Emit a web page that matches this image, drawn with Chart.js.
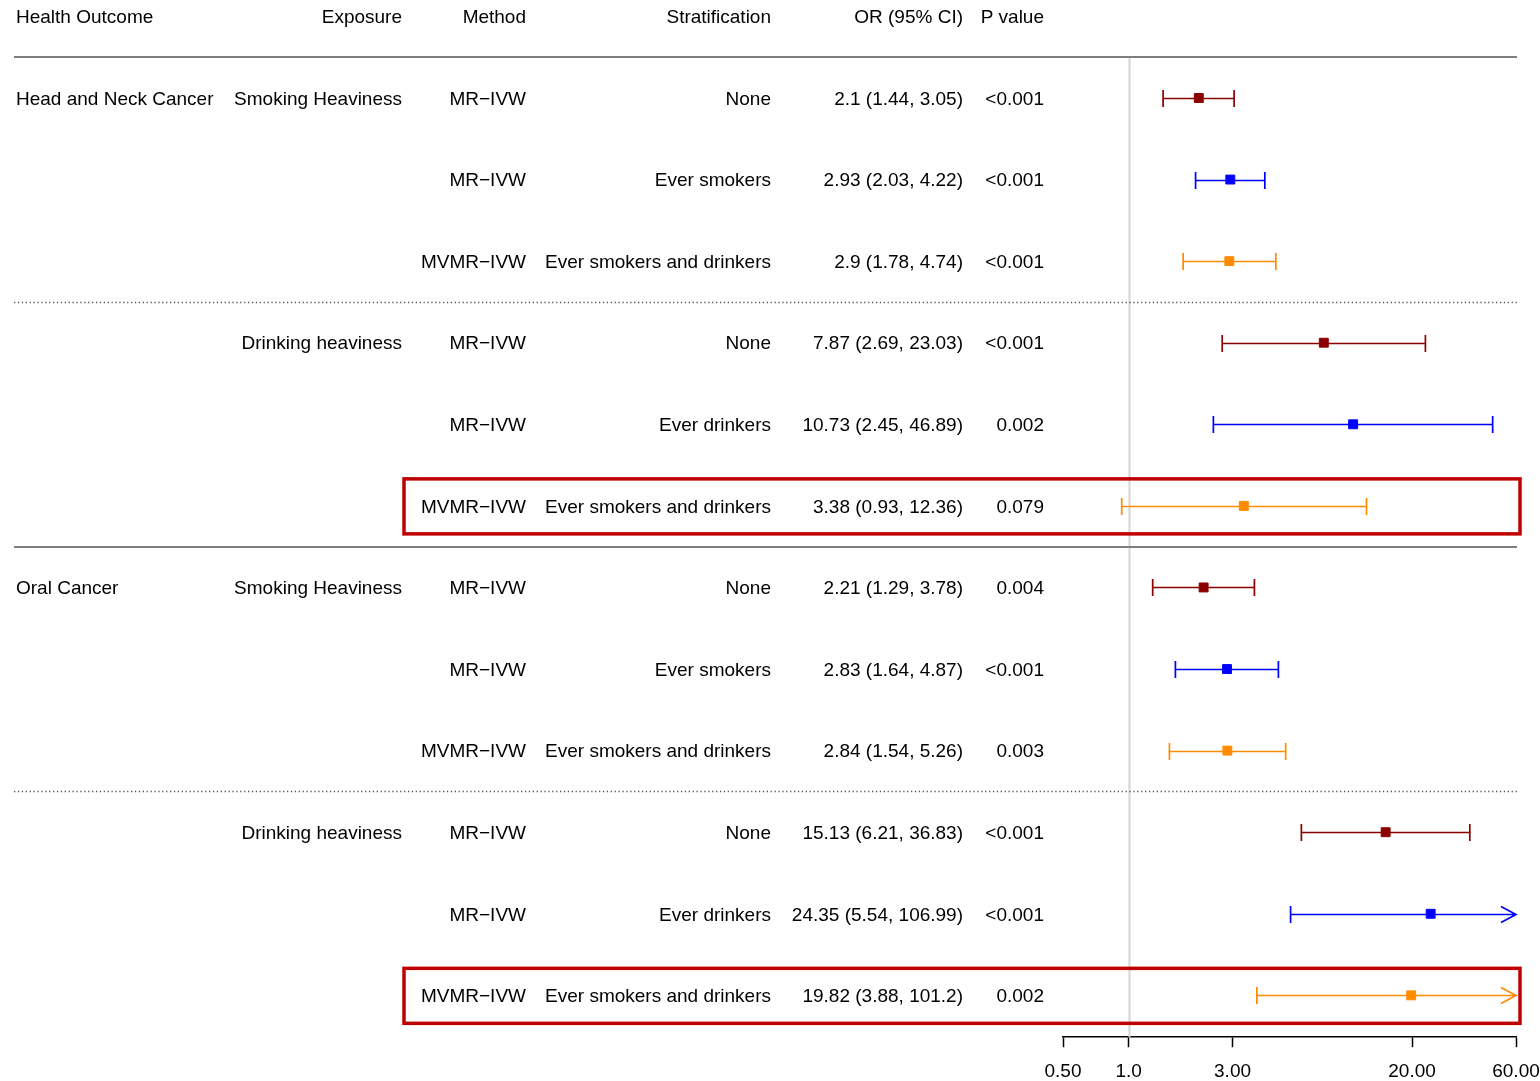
<!DOCTYPE html>
<html>
<head>
<meta charset="utf-8">
<title>Forest plot: smoking and drinking heaviness and cancer risk</title>
<script src="https://cdn.jsdelivr.net/npm/chart.js@4"></script>
<style>
  html, body { margin: 0; padding: 0; background: #ffffff; overflow: hidden; }
  #wrap { width: 1540px; height: 1081px; position: relative; }
</style>
</head>
<body>
<div id="wrap"><canvas id="forest"></canvas></div>
<script>
// ---- table content ----
const headers = ["Health Outcome", "Exposure", "Method", "Stratification", "OR (95% CI)", "P value"];
const outcomes = ["Head and Neck Cancer", "", "", "", "", "", "Oral Cancer", "", "", "", "", ""];
const exposures = ["Smoking Heaviness", "", "", "Drinking heaviness", "", "",
                   "Smoking Heaviness", "", "", "Drinking heaviness", "", ""];
const methods = ["MR\u2212IVW", "MR\u2212IVW", "MVMR\u2212IVW", "MR\u2212IVW", "MR\u2212IVW", "MVMR\u2212IVW",
                 "MR\u2212IVW", "MR\u2212IVW", "MVMR\u2212IVW", "MR\u2212IVW", "MR\u2212IVW", "MVMR\u2212IVW"];
const strata = ["None", "Ever smokers", "Ever smokers and drinkers",
                "None", "Ever drinkers", "Ever smokers and drinkers",
                "None", "Ever smokers", "Ever smokers and drinkers",
                "None", "Ever drinkers", "Ever smokers and drinkers"];
const orValues = [2.1, 2.93, 2.9, 7.87, 10.73, 3.38, 2.21, 2.83, 2.84, 15.13, 24.35, 19.82];
const lowerCI  = [1.44, 2.03, 1.78, 2.69, 2.45, 0.93, 1.29, 1.64, 1.54, 6.21, 5.54, 3.88];
const upperCI  = [3.05, 4.22, 4.74, 23.03, 46.89, 12.36, 3.78, 4.87, 5.26, 36.83, 106.99, 101.2];
const pValues  = ["<0.001", "<0.001", "<0.001", "<0.001", "0.002", "0.079",
                  "0.004", "<0.001", "0.003", "<0.001", "<0.001", "0.002"];
const highlightRows = [5, 11];
const groupBreaks = [2.5, 8.5];     // dotted separators between exposures
const outcomeBreaks = [5.5];        // solid separator between outcomes
const tickValues = [0.5, 1, 3, 20, 60];
const tickLabels = ["0.50", "1.0", "3.00", "20.00", "60.00"];

// ---- styling ----
const strataColor = {
  "None": "#8B0000",
  "Ever smokers": "#0000FF",
  "Ever drinkers": "#0000FF",
  "Ever smokers and drinkers": "#FF8C00"
};
const rowColors = strata.map(s => strataColor[s]);
const FONT = '19px "Liberation Sans", Arial, Helvetica, sans-serif';
const TEXT = "#000000";
const LEFT = 14, RIGHT = 1517;
const TEXT_NUDGE = 1.5;   // optical centring of table text on its row
// column anchors: [x, alignment]
const columns = [[16, "left"], [402, "right"], [526, "right"], [771, "right"], [963, "right"], [1044, "right"]];

const fmtOR = i => `${orValues[i]} (${lowerCI[i]}, ${upperCI[i]})`;

const forestPlugin = {
  id: "forestLayers",
  beforeDatasetsDraw(chart) {
    const { ctx, chartArea, scales: { x, y } } = chart;
    ctx.save();
    // line of no effect
    const x1 = Math.round(x.getPixelForValue(1)) + 0.5;
    ctx.strokeStyle = "#d4d4d4";
    ctx.lineWidth = 2;
    ctx.beginPath();
    ctx.moveTo(x1, y.getPixelForValue(-0.5));
    ctx.lineTo(x1, chartArea.bottom);
    ctx.stroke();

    // confidence intervals
    ctx.lineWidth = 1.7;
    orValues.forEach((v, i) => {
      const yy = Math.round(y.getPixelForValue(i)) + 0.5;
      const loClip = lowerCI[i] < x.min;
      const hiClip = upperCI[i] > x.max;
      const xl = x.getPixelForValue(Math.max(lowerCI[i], x.min));
      const xh = x.getPixelForValue(Math.min(upperCI[i], x.max));
      ctx.strokeStyle = rowColors[i];
      ctx.beginPath();
      ctx.moveTo(xl, yy);
      ctx.lineTo(xh, yy);
      // whiskers or arrow heads
      if (loClip) {
        ctx.moveTo(xl + 15, yy - 8); ctx.lineTo(xl, yy); ctx.lineTo(xl + 15, yy + 8);
      } else {
        ctx.moveTo(xl, yy - 8.5); ctx.lineTo(xl, yy + 8.5);
      }
      if (hiClip) {
        ctx.moveTo(xh - 15, yy - 8); ctx.lineTo(xh, yy); ctx.lineTo(xh - 15, yy + 8);
      } else {
        ctx.moveTo(xh, yy - 8.5); ctx.lineTo(xh, yy + 8.5);
      }
      ctx.stroke();
    });
    ctx.restore();
  },
  afterDraw(chart) {
    const { ctx, scales: { y } } = chart;
    ctx.save();
    ctx.font = FONT;
    ctx.fillStyle = TEXT;
    ctx.textBaseline = "middle";

    const drawRow = (cells, yy) => {
      cells.forEach((t, c) => {
        if (!t) return;
        ctx.textAlign = columns[c][1];
        ctx.fillText(t, columns[c][0], yy + TEXT_NUDGE);
      });
    };
    drawRow(headers, y.getPixelForValue(-1));
    orValues.forEach((v, i) => {
      drawRow([outcomes[i], exposures[i], methods[i], strata[i], fmtOR(i), pValues[i]],
              y.getPixelForValue(i));
    });

    // header rule and outcome separators
    ctx.strokeStyle = "#7f7f7f";
    ctx.lineWidth = 2;
    [-0.5, ...outcomeBreaks].forEach(b => {
      const yy = Math.round(y.getPixelForValue(b));
      ctx.beginPath(); ctx.moveTo(LEFT, yy); ctx.lineTo(RIGHT, yy); ctx.stroke();
    });
    // dotted separators between exposures
    ctx.strokeStyle = "#555555";
    ctx.lineWidth = 1.3;
    ctx.setLineDash([1.3, 2.6]);
    groupBreaks.forEach(b => {
      const yy = Math.round(y.getPixelForValue(b)) + 0.5;
      ctx.beginPath(); ctx.moveTo(LEFT, yy); ctx.lineTo(RIGHT, yy); ctx.stroke();
    });
    ctx.setLineDash([]);

    // highlighted rows
    ctx.strokeStyle = "#C00000";
    ctx.lineWidth = 3.5;
    highlightRows.forEach(r => {
      const yy = y.getPixelForValue(r);
      ctx.strokeRect(404, yy - 27, 1520 - 404, 55);
    });
    ctx.restore();
  }
};

new Chart(document.getElementById("forest"), {
  type: "scatter",
  data: {
    datasets: [{
      data: orValues.map((v, i) => ({ x: v, y: i })),
      pointStyle: "rect",
      pointRadius: 6.3,
      pointHoverRadius: 6.3,
      pointBackgroundColor: rowColors,
      pointBorderColor: rowColors,
      pointBorderWidth: 1,
      clip: false
    }]
  },
  plugins: [forestPlugin],
  options: {
    responsive: true,
    maintainAspectRatio: false,
    animation: false,
    events: [],
    layout: { padding: { left: 1063, right: 24, top: 16.4, bottom: -15 } },
    plugins: { legend: { display: false }, tooltip: { enabled: false } },
    scales: {
      x: {
        type: "logarithmic",
        position: "bottom",
        min: 0.5,
        max: 60,
        afterBuildTicks: scale => { scale.ticks = tickValues.map(v => ({ value: v })); },
        // the end label may run into the right margin
        afterFit: scale => { scale.paddingRight = 0; },
        grid: { drawOnChartArea: false, drawTicks: true, tickLength: 10, tickColor: "#000000", tickWidth: 1.5 },
        border: { display: true, color: "#000000", width: 1.5 },
        ticks: {
          autoSkip: false,
          maxRotation: 0,
          padding: 13,
          color: TEXT,
          font: { family: '"Liberation Sans", Arial, sans-serif', size: 19 },
          callback: (val, idx) => tickLabels[idx]
        }
      },
      y: {
        type: "linear",
        reverse: true,
        min: -1,
        max: 11.513,
        display: false
      }
    }
  }
});
</script>
</body>
</html>
